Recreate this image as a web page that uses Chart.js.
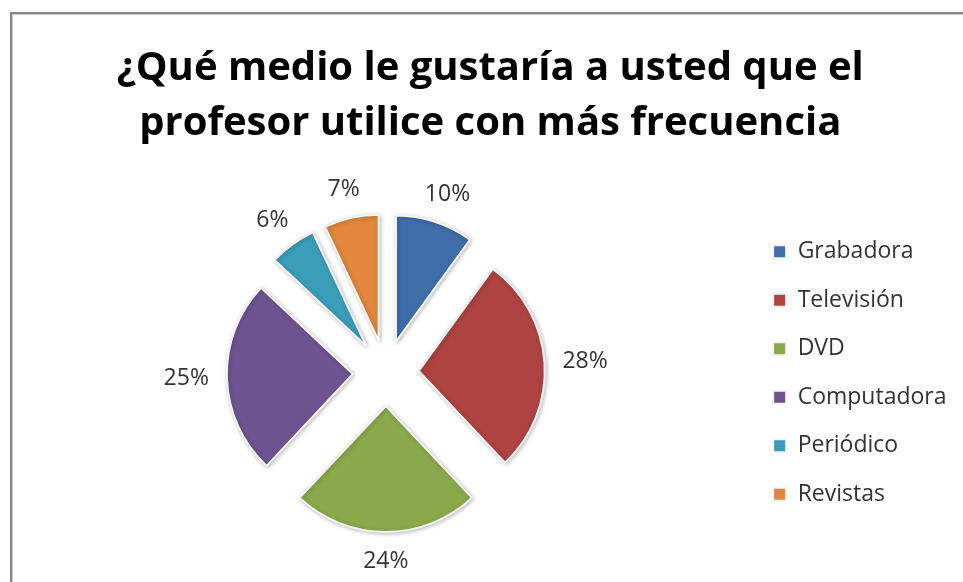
<!DOCTYPE html>
<html>
<head>
<meta charset="utf-8">
<script src="https://cdn.jsdelivr.net/npm/chart.js@4.4.1/dist/chart.umd.min.js"></script>
<style>
  html, body { margin: 0; padding: 0; background: #fff; overflow: hidden; }
  #wrap { position: relative; width: 963px; height: 582px; }
  #frame {
    position: absolute; left: 10px; top: 12px; width: 2000px; height: 2000px;
    border: 2px solid #868686; box-shadow: inset 1px 1px 0 #c9c9c9;
  }
  canvas { position: absolute; left: 0; top: 0; }
</style>
</head>
<body>
<div id="wrap">
  <div id="frame"></div>
  <canvas id="chart" width="963" height="582"></canvas>
</div>
<script>
// datos
const categorias = ["Grabadora", "Televisión", "DVD", "Computadora", "Periódico", "Revistas"];
const porcentajes = [10, 28, 24, 25, 6, 7];
const colores = ["#3e6da8", "#ae4341", "#8aa94b", "#6e5391", "#3b9db8", "#e2873b"];
const titulo = ["¿Qué medio le gustaría a usted que el", "profesor utilice con más frecuencia"];

const separacion = 33; // desplazamiento de cada porción (px)
const fuente = "Open Sans";

// porción separada: se traslada sin cambiar el radio (el offset nativo lo agranda)
class ArcoSeparado extends Chart.ArcElement {
  draw(ctx) {
    const mid = (this.startAngle + this.endAngle) / 2;
    ctx.save();
    ctx.translate(Math.cos(mid) * separacion, Math.sin(mid) * separacion);
    super.draw(ctx);
    ctx.restore();
  }
}
ArcoSeparado.id = "arcoSeparado";

class PastelSeparado extends Chart.PieController {}
PastelSeparado.id = "pastelSeparado";
PastelSeparado.defaults = { ...Chart.PieController.defaults, dataElementType: "arcoSeparado" };

Chart.register(ArcoSeparado, PastelSeparado);

// etiquetas de porcentaje fuera de cada porción
const etiquetasFuera = {
  id: "etiquetasFuera",
  afterDatasetsDraw(chart) {
    const ctx = chart.ctx;
    const meta = chart.getDatasetMeta(0);
    ctx.save();
    ctx.font = "23px '" + fuente + "'";
    ctx.fillStyle = "#333333";
    ctx.textAlign = "center";
    ctx.textBaseline = "middle";
    meta.data.forEach((arc, i) => {
      const p = arc.getProps(["x", "y", "startAngle", "endAngle", "outerRadius"], true);
      const mid = (p.startAngle + p.endAngle) / 2;
      const cos = Math.cos(mid), sin = Math.sin(mid);
      const texto = porcentajes[i] + "%";
      const w = ctx.measureText(texto).width;
      const r = separacion + p.outerRadius + 18;
      const x = p.x + cos * r + cos * w / 2;
      const y = p.y + sin * r + sin * 11;
      ctx.fillText(texto, x, y);
    });
    ctx.restore();
  },
};

// sombra suave bajo las porciones
const sombra = {
  id: "sombra",
  beforeDatasetsDraw(chart) {
    const ctx = chart.ctx;
    ctx.save();
    ctx.shadowColor = "rgba(0,0,0,0.25)";
    ctx.shadowBlur = 4;
    ctx.shadowOffsetX = 1;
    ctx.shadowOffsetY = 1;
  },
  afterDatasetsDraw(chart) {
    chart.ctx.restore();
  },
};

new Chart(document.getElementById("chart"), {
  type: "pastelSeparado",
  data: {
    labels: categorias,
    datasets: [
      {
        data: porcentajes,
        backgroundColor: colores,
        borderColor: "#f4f4f4",
        borderWidth: 2,
      },
    ],
  },
  options: {
    responsive: false,
    animation: false,
    radius: 126,
    layout: { padding: { left: 24, right: 6.5, top: 0, bottom: 0 } },
    plugins: {
      title: {
        display: true,
        text: titulo,
        color: "#000000",
        font: { family: fuente, size: 40, weight: "bold", lineHeight: 1.375 },
        padding: { top: 41, bottom: 13 },
      },
      legend: {
        position: "right",
        fullSize: false,
        labels: {
          boxWidth: 13,
          boxHeight: 13,
          padding: 25.5,
          color: "#333333",
          font: { family: fuente, size: 23 },
        },
      },
      tooltip: { enabled: false },
    },
  },
  plugins: [sombra, etiquetasFuera],
});
</script>
</body>
</html>
